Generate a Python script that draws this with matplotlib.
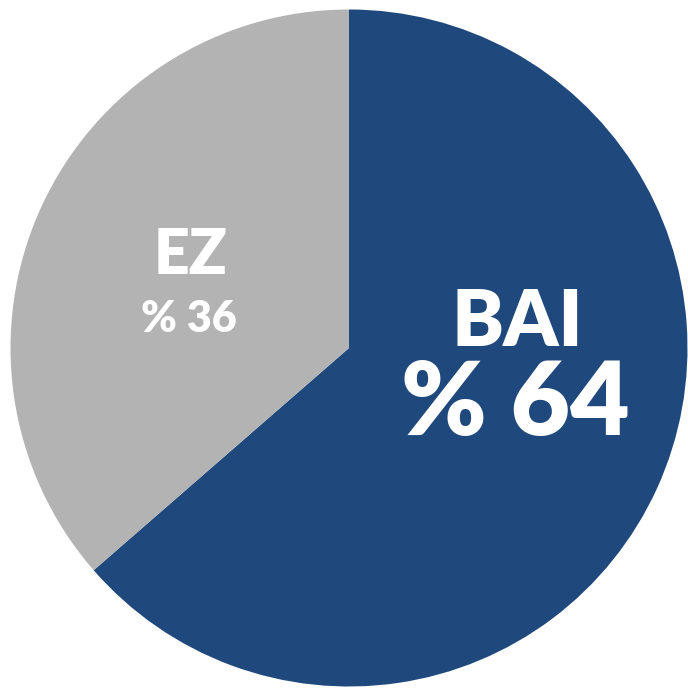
import matplotlib
matplotlib.use("Agg")
import matplotlib.pyplot as plt

labels = ["BAI", "EZ"]
values = [63.6, 36.4]
colors = ["#1F497D", "#B3B3B3"]

W = H = 688
fig = plt.figure(figsize=(W / 100, H / 100), dpi=100)
fig.patch.set_facecolor("white")
ax = fig.add_axes([10.5 / W, 1.5 / H, 677 / W, 677 / H])
ax.pie(values, colors=colors, startangle=90, counterclock=False,
       wedgeprops=dict(linewidth=0))
ax.set_aspect("equal")
ax.set_xlim(-1, 1)
ax.set_ylim(-1, 1)
ax.axis("off")

font = ["Lato", "DejaVu Sans"]

def put(x, y, s, size):
    fig.text(x / W, 1 - y / H, s, ha="center", va="center", color="white",
             fontsize=size, fontweight="heavy", family=font)

# label positions (pixels)
put(517, 323, labels[0], 56)
put(515, 405, f"% {round(values[0])}", 74)
put(191, 256, labels[1], 45)
put(189, 319, f"% {round(values[1])}", 31)

fig.savefig("out.png", dpi=100, facecolor="white")
